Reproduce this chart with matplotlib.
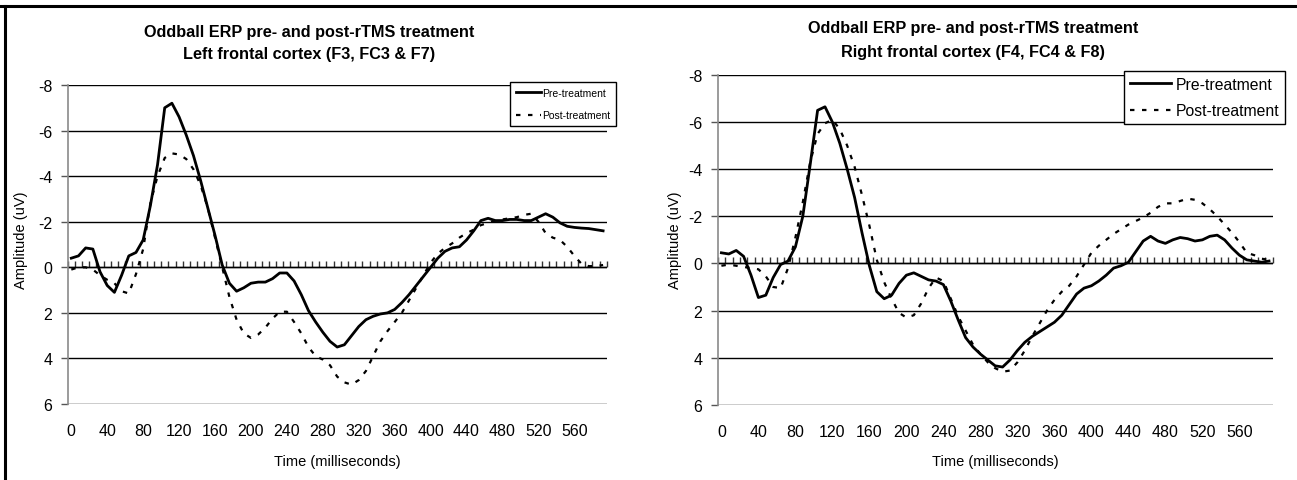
import numpy as np
import matplotlib
matplotlib.use("Agg")
import matplotlib.pyplot as plt
from matplotlib.lines import Line2D

plt.rcParams['font.family'] = ['Liberation Sans', 'DejaVu Sans']
plt.rcParams['axes.unicode_minus'] = False

# ---------------- data ----------------
time_ms = list(range(0, 593, 8))  # 75 samples, 8 ms apart
xtick_labels = list(range(0, 561, 40))
ytick_values = list(range(-8, 7, 2))

left_pre = [
    -0.4, -0.5, -0.85, -0.8, 0.2, 0.8, 1.1, 0.35, -0.5, -0.65,
    -1.2, -2.7, -4.5, -7.0, -7.2, -6.6, -5.8, -4.9, -3.8, -2.6,
    -1.4, -0.1, 0.7, 1.05, 0.9, 0.7, 0.65, 0.65, 0.5, 0.25,
    0.25, 0.6, 1.2, 1.9, 2.4, 2.85, 3.25, 3.5, 3.4, 3.0,
    2.6, 2.3, 2.15, 2.05, 2.0, 1.85, 1.55, 1.2, 0.8, 0.4,
    0.0, -0.4, -0.7, -0.85, -0.9, -1.2, -1.6, -2.05, -2.15, -2.05,
    -2.05, -2.1, -2.1, -2.05, -2.05, -2.2, -2.35, -2.2, -1.95, -1.8,
    -1.75, -1.72, -1.7, -1.65, -1.6,
]
left_post = [
    0.1, 0.0, 0.0, 0.1, 0.35, 0.55, 0.7, 1.05, 1.15, 0.3,
    -0.8, -2.8, -4.0, -4.8, -5.0, -4.95, -4.75, -4.3, -3.6, -2.6,
    -1.3, 0.0, 1.3, 2.3, 2.9, 3.1, 2.95, 2.65, 2.25, 1.95,
    1.95, 2.4, 2.9, 3.5, 3.9, 4.05, 4.3, 4.8, 5.05, 5.15,
    4.95, 4.55, 3.9, 3.25, 2.8, 2.4, 2.0, 1.45, 0.9, 0.35,
    -0.2, -0.6, -0.85, -1.05, -1.3, -1.5, -1.65, -1.85, -1.95, -2.05,
    -2.1, -2.15, -2.2, -2.3, -2.35, -2.0, -1.5, -1.3, -1.2, -0.9,
    -0.5, -0.15, -0.05, -0.05, -0.1,
]
right_pre = [
    -0.45, -0.4, -0.55, -0.3, 0.5, 1.45, 1.35, 0.6, 0.05, -0.1,
    -0.7, -2.0, -4.2, -6.5, -6.65, -6.0, -5.1, -4.0, -2.8, -1.3,
    0.1, 1.2, 1.5, 1.35, 0.85, 0.5, 0.4, 0.55, 0.7, 0.75,
    0.9, 1.6, 2.4, 3.15, 3.55, 3.85, 4.1, 4.35, 4.4, 4.1,
    3.7, 3.35, 3.1, 2.9, 2.7, 2.5, 2.2, 1.75, 1.3, 1.05,
    0.95, 0.75, 0.5, 0.2, 0.1, -0.05, -0.5, -0.95, -1.15, -0.95,
    -0.85, -1.0, -1.1, -1.05, -0.95, -1.0, -1.15, -1.2, -1.0, -0.65,
    -0.35, -0.15, -0.1, -0.05, -0.1,
]
right_post = [
    0.1, 0.05, 0.1, 0.15, 0.2, 0.25, 0.55, 1.0, 1.05, 0.2,
    -1.1, -2.6, -4.3, -5.5, -5.95, -6.1, -5.7, -5.0, -4.1, -2.9,
    -1.6, -0.15, 0.8, 1.5, 2.1, 2.3, 2.2, 1.7, 1.05, 0.6,
    0.75, 1.5, 2.25, 2.85, 3.45, 3.85, 4.2, 4.45, 4.6, 4.55,
    4.2, 3.7, 3.1, 2.55, 2.0, 1.55, 1.2, 0.95, 0.55, 0.05,
    -0.45, -0.75, -1.0, -1.25, -1.45, -1.65, -1.8, -1.95, -2.15, -2.4,
    -2.55, -2.55, -2.65, -2.75, -2.7, -2.55, -2.3, -2.0, -1.65, -1.3,
    -0.9, -0.45, -0.35, -0.2, -0.15,
]

series_labels = ["Pre-treatment", "Post-treatment"]
titles = [
    ("Oddball ERP pre- and post-rTMS treatment", "Left frontal cortex (F3, FC3 & F7)"),
    ("Oddball ERP pre- and post-rTMS treatment", "Right frontal cortex (F4, FC4 & F8)"),
]
xlabel = "Time (milliseconds)"
ylabel = "Amplitude (uV)"

# ---------------- figure ----------------
W, H = 1297, 481
fig = plt.figure(figsize=(W / 100, H / 100), dpi=100)


def px_rect(x0, y0, x1, y1):
    return [x0 / W, (H - y1) / H, (x1 - x0) / W, (y1 - y0) / H]


panels = [
    dict(rect=px_rect(67.7, 86, 606.7, 405), pre=left_pre, post=left_post,
         title=titles[0], tx=309, ty=(33, 55), ylx=28,
         leg_anchor=(510, 83), leg_fs=7.5, leg_hl=2.4, leg_ls=1.2,
         leg_bp=0.55, leg_tp=0.15),
    dict(rect=px_rect(717.7, 76, 1272.7, 405.7), pre=right_pre, post=right_post,
         title=titles[1], tx=973, ty=(28, 53), ylx=682,
         leg_anchor=(1124, 72), leg_fs=11.3, leg_hl=2.6, leg_ls=0.72,
         leg_bp=0.38, leg_tp=0.3),
]

x_lo = time_ms[0] - 4
x_hi = time_ms[-1] + 4
boundaries = np.arange(x_lo, x_hi + 1, 8)

for p in panels:
    ax = fig.add_axes(p["rect"])
    ax.set_xlim(x_lo, x_hi)
    ax.set_ylim(ytick_values[-1], ytick_values[0])  # inverted: negative up
    ax.set_yticks(ytick_values)
    ax.set_yticklabels([str(v) for v in ytick_values])
    ax.set_xticks(xtick_labels)
    ax.set_xticklabels([str(v) for v in xtick_labels])

    for s in ["top", "right", "bottom"]:
        ax.spines[s].set_visible(False)
    ax.spines["left"].set_color("#8a8a8a")
    ax.spines["left"].set_linewidth(1.2)

    ax.grid(axis="y", color="black", linewidth=1.0)
    ax.set_axisbelow(True)
    ax.tick_params(axis="y", direction="out", length=5, width=1, color="#555555",
                   labelsize=11.5, pad=6)
    ax.tick_params(axis="x", length=0, labelsize=11.5, pad=14)

    # category axis crossing at zero with tick marks between categories
    ax.axhline(0, color="black", linewidth=1.0, zorder=1.5)
    frac0 = (ytick_values[-1] - 0) / (ytick_values[-1] - ytick_values[0])
    sec = ax.secondary_xaxis(frac0)
    sec.set_xticks(boundaries)
    sec.tick_params(axis="x", direction="in", length=4, width=1, color="#333333",
                    labelbottom=False, labeltop=False)
    for sp in sec.spines.values():
        sp.set_visible(False)

    l1, = ax.plot(time_ms, p["pre"], color="black", linewidth=2.0,
                  solid_joinstyle="round", zorder=3, label=series_labels[0])
    l2, = ax.plot(time_ms, p["post"], color="black", linewidth=1.6,
                  linestyle=(0, (2.0, 3.4)), zorder=3, label=series_labels[1])

    fig.text(p["tx"] / W, 1 - p["ty"][0] / H, p["title"][0], ha="center",
             va="center", fontsize=11.7, fontweight="bold")
    fig.text(p["tx"] / W, 1 - p["ty"][1] / H, p["title"][1], ha="center",
             va="center", fontsize=11.7, fontweight="bold")

    ax.set_xlabel(xlabel, fontsize=10.5, labelpad=11)
    ax.set_ylabel(ylabel, fontsize=10.5)
    ax.yaxis.set_label_coords(p["ylx"] / W, 0.5, transform=fig.transFigure)

    leg = ax.legend(handles=[l1, l2], loc="upper left",
                    bbox_to_anchor=(p["leg_anchor"][0] / W, 1 - p["leg_anchor"][1] / H),
                    bbox_transform=fig.transFigure, fontsize=p["leg_fs"],
                    handlelength=p["leg_hl"], handletextpad=p["leg_tp"],
                    borderpad=p["leg_bp"], labelspacing=p["leg_ls"],
                    borderaxespad=0, fancybox=False,
                    framealpha=1, edgecolor="black")
    leg.get_frame().set_linewidth(1.0)

# outer frame (top and left edges)
fig.add_artist(Line2D([0, 1], [1 - 7 / H, 1 - 7 / H], transform=fig.transFigure,
                      color="black", linewidth=2.2))
fig.add_artist(Line2D([5 / W, 5 / W], [0, 1 - 7 / H], transform=fig.transFigure,
                      color="black", linewidth=2.2))

fig.savefig("out.png", dpi=100)
